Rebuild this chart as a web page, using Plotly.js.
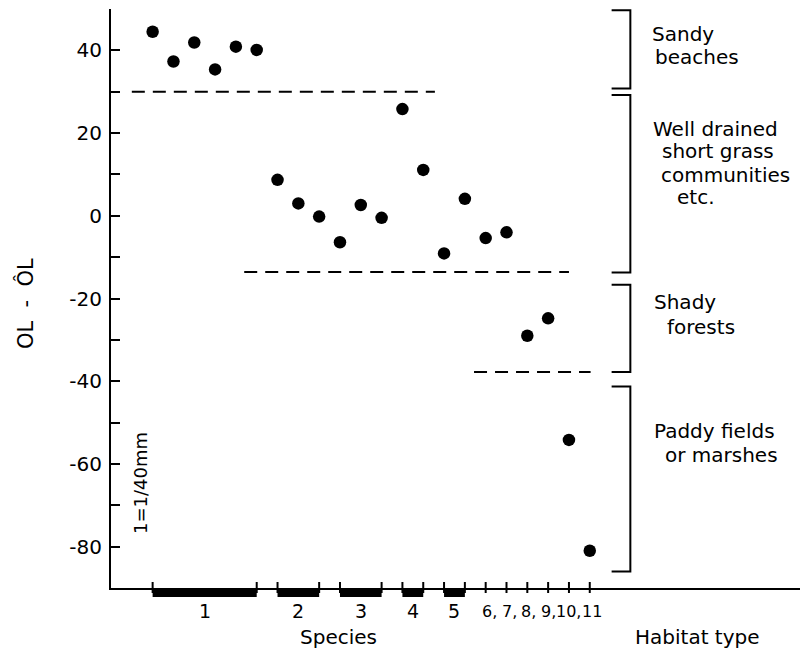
<!DOCTYPE html>
<html><head><meta charset="utf-8">
<script src="https://cdn.plot.ly/plotly-3.0.1.min.js"></script>
<style>html,body{margin:0;padding:0;background:#fff}</style>
</head><body><div id="chart" style="width:802px;height:651px"></div>
<script>
// ---- data ----
const sampleIndex = [1,2,3,4,5,6,7,8,9,10,11,12,13,14,15,16,17,18,19,20,21,22];
const olDiff = [44.5,37.3,41.9,35.4,40.9,40.1, 8.7,3.0,-0.2, -6.4,2.6,-0.5, 25.8,11.1, -9.1,4.1, -5.4,-4.0,-29.0,-24.8,-54.2,-81.0];

const speciesStart = [1,7,10,13,15];
const speciesEnd   = [6,9,12,14,16];
const tickPositions = [1,6,7,9,10,12,13,14,15,16,17,18,19,20,21,22];
const labelPositions = [3.5,8,11,13.5,15.5,17,18,19,20,21,22];
const labelTexts = ['1','2','3','4','5','6,','7,','8,','9,','10,','11'];

const yTickVals = [50,40,30,20,10,0,-10,-20,-30,-40,-50,-60,-70,-80,-90];
const yTickText = ['','40','','20','','0','','-20','','-40','','-60','','-80',''];

const boundaryLevel = [30,-13.6,-37.8];
const boundaryFrom  = [0.0,5.4,16.44];
const boundaryTo    = [14.56,21.0,22.04];

const habitatTop    = [49.7,29.2,-16.7,-41.3];
const habitatBottom = [30.8,-13.7,-37.8,-86.0];
const habitatLines = [
  ['Sandy','beaches'],
  ['Well drained','short grass','communities','etc.'],
  ['Shady','forests'],
  ['Paddy fields','or marshes']
];

// ---- layout helpers (pixel -> paper for text placement) ----
const L=111, R=2, T=9, B=63, W=802, H=651;
const PW=W-L-R, PH=H-T-B;
const px = v => (v-L)/PW;
const py = v => (H-B-v)/PH;
const FONT = 'DejaVu Sans, sans-serif';

const habitatLinePos = [
  [[650,34],[653,57]],
  [[651,129],[660,151],[659,175],[675,197]],
  [[652,302],[665,327]],
  [[652,431],[663,455]]
];

const shapes = [];
boundaryLevel.forEach((lv,i)=>{
  shapes.push({type:'line',xref:'x',yref:'y',x0:boundaryFrom[i],x1:boundaryTo[i],y0:lv,y1:lv,
    line:{color:'#000',width:2,dash:'13px,8px'}});
});
const bxV = 23.95, bxA = 23.05;
habitatTop.forEach((t,i)=>{
  const b = habitatBottom[i];
  shapes.push({type:'path',xref:'x',yref:'y',
    path:`M ${bxA} ${t} L ${bxV} ${t} L ${bxV} ${b} L ${bxA} ${b}`,
    line:{color:'#000',width:2}});
});
// species bars hanging under the axis
speciesStart.forEach((s,i)=>{
  shapes.push({type:'line',xref:'x',yref:'paper',x0:s,x1:speciesEnd[i],y0:-4.5/PH,y1:-4.5/PH,
    line:{color:'#000',width:9}});
});
tickPositions.forEach(t=>{
  shapes.push({type:'line',xref:'x',yref:'paper',x0:t,x1:t,y0:-5/PH,y1:6/PH,
    line:{color:'#000',width:2}});
});

const annotations = [];
// category labels under the axis (left-edge offsets in px from each label's position)
const labelLeftOffset = [null,null,null,null,null,-6,-6.5,-8.5,-9.5,-14.5,-10];
labelTexts.forEach((txt,i)=>{
  const big = labelLeftOffset[i]===null;
  annotations.push({text:txt,xref:'x',yref:'paper',x:labelPositions[i],y:py(611),
    xanchor:big?'center':'left',yanchor:'middle',showarrow:false,
    xshift:big?0:labelLeftOffset[i],
    font:{family:FONT,size:big?19:16,color:'#000'}});
});
habitatLines.forEach((lines,g)=>{
  lines.forEach((txt,k)=>{
    const p = habitatLinePos[g][k];
    annotations.push({text:txt,xref:'paper',yref:'paper',x:px(p[0]),y:py(p[1]),
      xanchor:'left',yanchor:'middle',showarrow:false,font:{family:FONT,size:20,color:'#000'}});
  });
});
annotations.push({text:'OL\u00a0\u00a0-\u00a0\u00a0ÔL',xref:'paper',yref:'paper',x:px(25),y:py(304),textangle:-90,
  xanchor:'center',yanchor:'middle',showarrow:false,font:{family:FONT,size:21,color:'#000'}});
annotations.push({text:'1=1/40mm',xref:'paper',yref:'paper',x:px(140),y:py(483),textangle:-90,
  xanchor:'center',yanchor:'middle',showarrow:false,font:{family:FONT,size:18,color:'#000'}});
annotations.push({text:'Species',xref:'paper',yref:'paper',x:px(338),y:py(637),
  xanchor:'center',yanchor:'middle',showarrow:false,font:{family:FONT,size:20,color:'#000'}});
annotations.push({text:'Habitat type',xref:'paper',yref:'paper',x:px(633),y:py(637),
  xanchor:'left',yanchor:'middle',showarrow:false,font:{family:FONT,size:20,color:'#000'}});

const trace = {
  type:'scatter', mode:'markers', x:sampleIndex, y:olDiff,
  marker:{color:'#000',size:12.5,line:{width:0}}, hoverinfo:'skip', cliponaxis:false
};

const layout = {
  width:W, height:H, margin:{l:L,r:R,t:T,b:B,pad:0},
  paper_bgcolor:'#fff', plot_bgcolor:'#fff', showlegend:false,
  font:{family:FONT,color:'#000'},
  xaxis:{range:[-1,32.1],showgrid:false,zeroline:false,showline:true,linecolor:'#000',linewidth:2,
    ticks:'',showticklabels:false,fixedrange:true},
  yaxis:{range:[-90,50],showgrid:false,zeroline:false,showline:true,linecolor:'#000',linewidth:2,
    tickmode:'array',tickvals:yTickVals,ticktext:yTickText,ticks:'inside',ticklen:9,tickwidth:2,tickcolor:'#000',
    ticklabelstandoff:3,tickfont:{family:FONT,size:20,color:'#000'},fixedrange:true},
  shapes:shapes, annotations:annotations
};

Plotly.newPlot('chart',[trace],layout,{staticPlot:true,displayModeBar:false});
</script></body></html>
